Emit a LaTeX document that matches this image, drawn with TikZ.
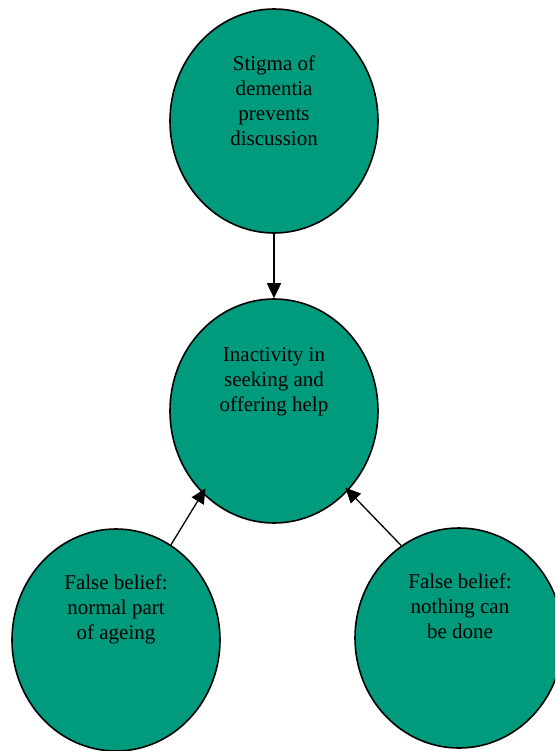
\documentclass[tikz,border=0pt]{standalone}
\usepackage{fontspec}
\setmainfont{Liberation Serif}
\usetikzlibrary{shapes.geometric,arrows.meta}
\definecolor{teal1}{RGB}{0,155,125}
\tikzset{
  bubble/.style={ellipse, draw=black, line width=1.6pt, fill=teal1, inner sep=0pt,
                 minimum width=208pt, minimum height=224pt},
  btext/.style={anchor=north, align=center, inner sep=0pt,
                font=\fontsize{21}{25}\selectfont},
  conn/.style={line width=1.6pt, -{Triangle[length=15pt,width=14pt]}},
}
\begin{document}
\begin{tikzpicture}[x=1pt,y=-1pt]
\useasboundingbox (0,0) rectangle (555,751);
\clip (0,0) rectangle (555,751);
\node[bubble] (stigma) at (274,121) {};
\node[bubble] (inact) at (274,411) {};
\node[bubble, minimum height=222pt] (normal) at (116,640) {};
\node[bubble, minimum height=220pt] (nothing) at (459,638) {};
\node[btext] (stigmaT) at (274,56) {Stigma of\\dementia\\prevents\\discussion};
\node[btext] (inactT) at (274,347) {Inactivity in\\seeking and\\offering help};
\node[btext] (normalT) at (116,575) {False belief:\\normal part\\of ageing};
\node[btext] (nothingT) at (460,574) {False belief:\\nothing can\\be done};
\draw[conn] (stigma) -- (inact);
\draw[conn, line width=1.3pt, shorten >=-6pt] (normal.60) -- (inact.229);
\draw[conn, line width=1.3pt, shorten >=-4pt] (nothing.122) -- (inact.313);
\end{tikzpicture}
\end{document}
